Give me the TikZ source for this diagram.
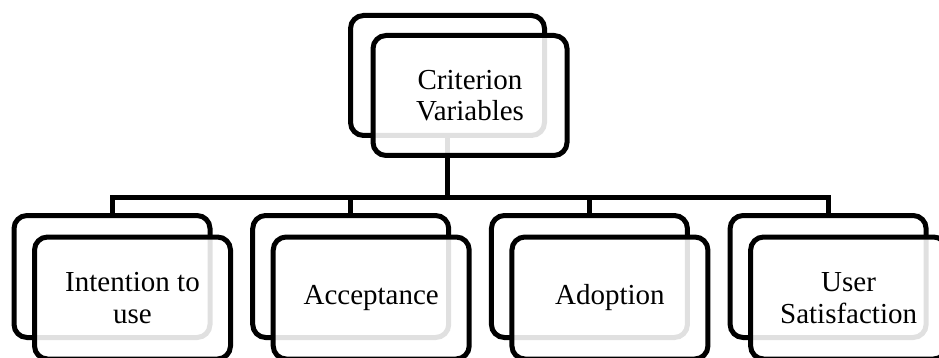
\documentclass[tikz,border=0pt]{standalone}
\usepackage{fontspec}
\setmainfont{Liberation Serif}
\usetikzlibrary{backgrounds}
\begin{document}
\begin{tikzpicture}[x=1pt,y=-1pt,
  box/.style={draw=black, line width=5pt, rounded corners=13pt, minimum width=196pt, minimum height=122pt, inner sep=0pt, outer sep=0pt},
  topbox/.style={box, minimum width=194pt, minimum height=120pt},
  backfill/.style={fill=white},
  frontfill/.style={fill=white, fill opacity=0.88, text opacity=1, align=center, font=\fontsize{29}{31.5}\selectfont},
  conn/.style={line width=5pt}]
\useasboundingbox (0,0) rectangle (939,358);
% top
\node[topbox, backfill] (tb) at (447.5,75.5) {};
\node[topbox, frontfill] (tf) at (470,95.5) {Criterion\\Variables};
% bottom
\node[box, backfill] (b1) at (112,276.5) {};
\node[box, frontfill] (f1) at (132.5,298) {Intention to\\use};
\node[box, backfill] (b2) at (350.7,276.5) {};
\node[box, frontfill] (f2) at (371.2,298) {Acceptance};
\node[box, backfill] (b3) at (589.4,276.5) {};
\node[box, frontfill] (f3) at (609.9,298) {Adoption};
\node[box, backfill] (b4) at (828.1,276.5) {};
\node[box, frontfill] (f4) at (848.6,298) {User\\Satisfaction};
\coordinate (bus) at (447.5,197.5);
\begin{scope}[on background layer]
\draw[conn] (tb.south) -- (bus);
\draw[conn] (b1.north) |- (bus) -| (b4.north);
\draw[conn] (b2.north) -- (b2.north |- bus);
\draw[conn] (b3.north) -- (b3.north |- bus);
\end{scope}
\end{tikzpicture}
\end{document}
